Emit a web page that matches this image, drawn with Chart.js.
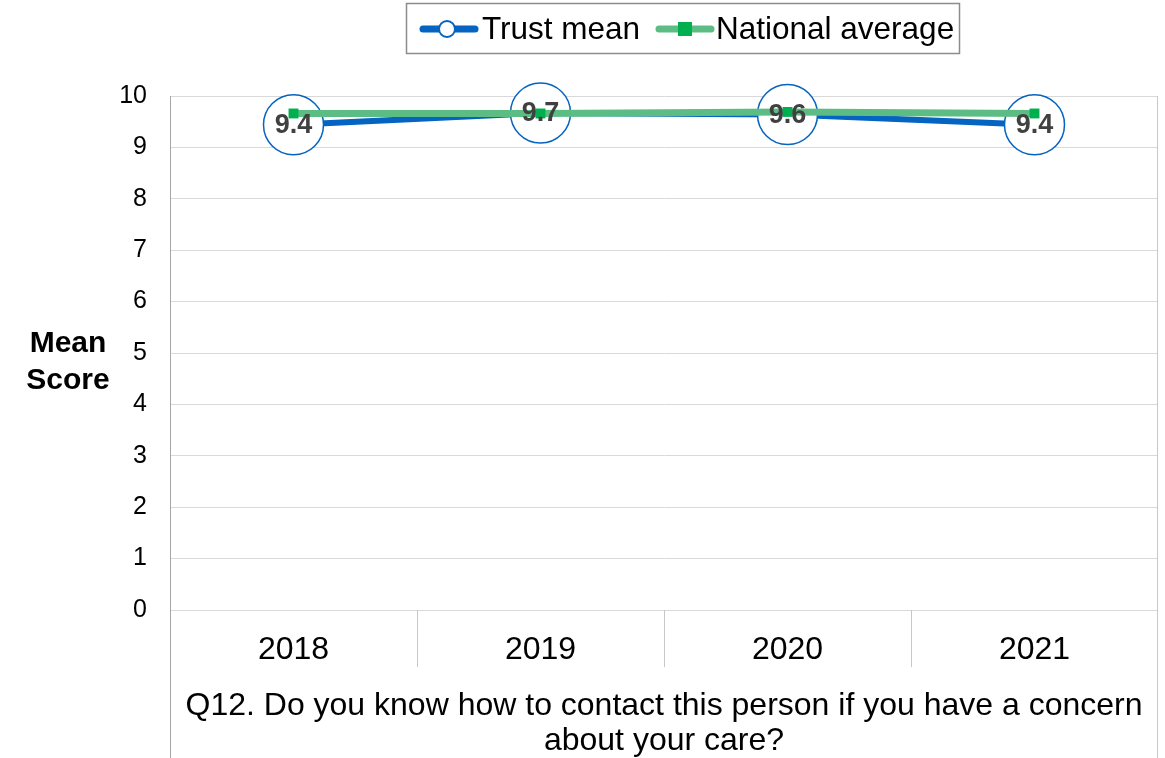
<!DOCTYPE html>
<html><head><meta charset="utf-8">
<script src="https://cdn.jsdelivr.net/npm/chart.js@4.4.0/dist/chart.umd.min.js"></script>
<style>html,body{margin:0;padding:0;background:#fff;overflow:hidden}canvas{display:block}</style>
</head><body><canvas id="c" width="1165" height="758"></canvas>
<script>
const categories = ['2018', '2019', '2020', '2021'];
const trustMean = [9.44, 9.67, 9.64, 9.44];
const nationalAverage = [9.66, 9.66, 9.69, 9.66];
const seriesNames = ['Trust mean', 'National average'];
const yAxisTitle = ['Mean', 'Score'];
const xAxisTitle = ['Q12. Do you know how to contact this person if you have a concern', 'about your care?'];
const yMin = 0, yMax = 10, yStep = 1;

const FONT = "'Liberation Sans', Arial, sans-serif";
const BLUE = '#0563c1';
const GREEN_LINE = '#5cbd84';
const GREEN_MARK = '#00b050';

function hline(ctx, x1, y1, x2, y2) {
  ctx.beginPath(); ctx.moveTo(x1, y1); ctx.lineTo(x2, y2); ctx.stroke();
}

const extras = {
  id: 'extras',
  afterDatasetsDraw(chart) {
    const ctx = chart.ctx;
    const meta = chart.getDatasetMeta(0);
    ctx.save();
    ctx.font = 'bold 27px ' + FONT;
    ctx.fillStyle = '#404040';
    ctx.textAlign = 'center';
    ctx.textBaseline = 'middle';
    meta.data.forEach((pt, i) => {
      ctx.fillText(trustMean[i].toFixed(1), pt.x, pt.y + 1);
    });
    ctx.restore();
  },
  afterDraw(chart) {
    const ctx = chart.ctx;
    const a = chart.chartArea;
    const xs = chart.scales.x;
    const H = chart.height;
    const n = categories.length;
    const half = (a.right - a.left) / n / 2;
    ctx.save();
    ctx.lineWidth = 1;
    ctx.strokeStyle = '#c8c8c8';
    for (let i = 1; i < n; i++) {
      const px = Math.round(xs.getPixelForTick(i) - half) + 0.5;
      hline(ctx, px, a.bottom, px, a.bottom + 57);
    }
    const rx = Math.round(a.right) - 0.5;
    hline(ctx, rx, a.top, rx, H);
    ctx.strokeStyle = '#a6a6a6';
    const lx = Math.round(a.left) + 0.5;
    hline(ctx, lx, a.bottom, lx, H);

    // y-axis title (horizontal)
    ctx.fillStyle = '#000';
    ctx.font = 'bold 30px ' + FONT;
    ctx.textAlign = 'center';
    ctx.textBaseline = 'middle';
    ctx.fillText(yAxisTitle[0], 68, 344);
    ctx.fillText(yAxisTitle[1], 68, 381);

    // x-axis title
    ctx.font = '32px ' + FONT;
    const cx = (a.left + a.right) / 2;
    ctx.fillText(xAxisTitle[0], cx, 706);
    ctx.fillText(xAxisTitle[1], cx, 741);

    // legend
    ctx.strokeStyle = '#8c8c8c';
    ctx.lineWidth = 1.5;
    ctx.strokeRect(406.5, 3.5, 553, 50);
    const ly = 29;
    ctx.lineCap = 'round';
    ctx.strokeStyle = BLUE; ctx.lineWidth = 7;
    hline(ctx, 423, ly, 475, ly);
    ctx.fillStyle = '#fff'; ctx.lineWidth = 2;
    ctx.beginPath(); ctx.arc(447, ly, 8, 0, Math.PI * 2); ctx.fill(); ctx.stroke();
    ctx.strokeStyle = GREEN_LINE; ctx.lineWidth = 7;
    hline(ctx, 659, ly, 711, ly);
    ctx.fillStyle = GREEN_MARK;
    ctx.fillRect(678, ly - 7, 14, 14);
    ctx.fillStyle = '#000';
    ctx.font = '31.5px ' + FONT;
    ctx.textAlign = 'left';
    ctx.fillText(chart.data.datasets[0].label, 482, ly + 1);
    ctx.fillText(chart.data.datasets[1].label, 716, ly + 1);
    ctx.restore();
  }
};

new Chart(document.getElementById('c'), {
  type: 'line',
  data: {
    labels: categories,
    datasets: [
      {
        label: seriesNames[0],
        data: trustMean,
        borderColor: BLUE,
        borderWidth: 6,
        pointStyle: 'circle',
        pointRadius: 30,
        pointBackgroundColor: '#fff',
        pointBorderColor: BLUE,
        pointBorderWidth: 1.5,
        tension: 0,
        clip: false,
        order: 2
      },
      {
        label: seriesNames[1],
        data: nationalAverage,
        borderColor: GREEN_LINE,
        borderWidth: 7,
        pointStyle: 'rect',
        pointRadius: 7,
        pointBackgroundColor: GREEN_MARK,
        pointBorderColor: GREEN_MARK,
        pointBorderWidth: 0,
        tension: 0,
        clip: false,
        order: 1
      }
    ]
  },
  options: {
    responsive: false,
    animation: false,
    devicePixelRatio: 1,
    layout: { autoPadding: false, padding: { top: 96, right: 7, left: 0, bottom: 0 } },
    plugins: { legend: { display: false }, tooltip: { enabled: false } },
    scales: {
      x: {
        type: 'category',
        offset: true,
        grid: { display: false, drawTicks: false },
        border: { display: false },
        ticks: { font: { family: FONT, size: 32 }, color: '#000', padding: 21 },
        afterFit(s) { s.height = 148; s.paddingLeft = 0; s.paddingRight = 0; }
      },
      y: {
        min: yMin, max: yMax,
        ticks: { stepSize: yStep, font: { family: FONT, size: 25 }, color: '#000', padding: 23 },
        grid: { color: '#d9d9d9', drawTicks: false, lineWidth: 1 },
        border: { color: '#a6a6a6', width: 1 },
        afterFit(s) { s.width = 170; s.paddingTop = 0; s.paddingBottom = 0; }
      }
    }
  },
  plugins: [extras]
});
</script>
</body></html>
